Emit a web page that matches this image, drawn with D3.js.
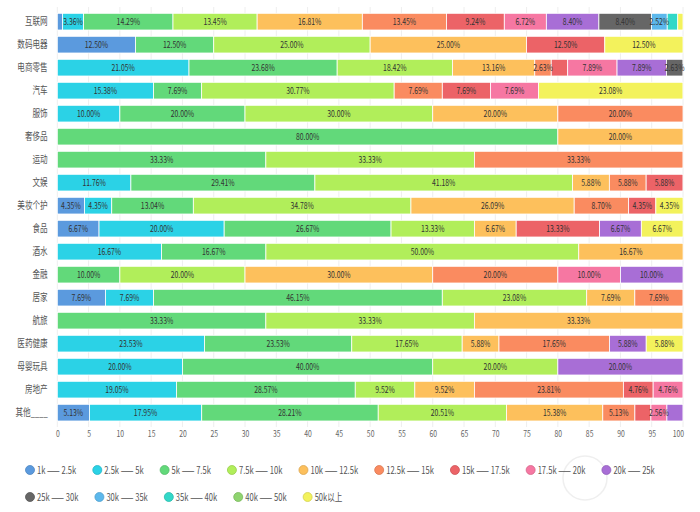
<!DOCTYPE html>
<html>
<head>
<meta charset="utf-8">
<script src="https://cdn.jsdelivr.net/npm/d3@7"></script>
<style>
  body { margin: 0; background: #fff; }
  text { font-family: "Noto Sans CJK SC", "Noto Sans", sans-serif; }
</style>
</head>
<body>
<svg id="chart" width="700" height="512"></svg>
<script>
// rows, top to bottom
const categories = ["互联网", "数码电器", "电商零售", "汽车", "服饰", "奢侈品", "运动", "文娱", "美妆个护",
    "食品", "酒水", "金融", "居家", "航旅", "医药健康", "母婴玩具", "房地产", "其他____"];

const seriesNames = ["1k —— 2.5k", "2.5k —— 5k", "5k —— 7.5k", "7.5k —— 10k", "10k —— 12.5k", "12.5k —— 15k",
    "15k —— 17.5k", "17.5k —— 20k", "20k —— 25k", "25k —— 30k", "30k —— 35k", "35k —— 40k", "40k —— 50k", "50k以上"];

const seriesColors = ["#5b9ade", "#2bd2e6", "#62d97a", "#b1ee5a", "#fdc05c", "#fa8b60", "#ec6367",
    "#f677a2", "#a86ed6", "#666666", "#5cb8ec", "#32d8c8", "#8fd46f", "#f3f25c"];

// percent share of each salary band, one array per band (same order as categories)
const v1k   = [0.84, 12.50, 0, 0, 0, 0, 0, 0, 4.35, 6.67, 0, 0, 7.69, 0, 0, 0, 0, 5.13];
const v2_5k = [3.36, 0, 21.05, 15.38, 10.00, 0, 0, 11.76, 4.35, 20.00, 16.67, 0, 7.69, 0, 23.53, 20.00, 19.05, 17.95];
const v5k   = [14.29, 12.50, 23.68, 7.69, 20.00, 80.00, 33.33, 29.41, 13.04, 26.67, 16.67, 10.00, 46.15, 33.33, 23.53, 40.00, 28.57, 28.21];
const v7_5k = [13.45, 25.00, 18.42, 30.77, 30.00, 0, 33.33, 41.18, 34.78, 13.33, 50.00, 20.00, 23.08, 33.33, 17.65, 20.00, 9.52, 20.51];
const v10k  = [16.81, 25.00, 13.16, 0, 20.00, 20.00, 0, 5.88, 26.09, 6.67, 16.67, 30.00, 7.69, 33.33, 5.88, 0, 9.52, 15.38];
const v12_5k= [13.45, 0, 2.63, 7.69, 20.00, 0, 33.33, 5.88, 8.70, 0, 0, 20.00, 7.69, 0, 17.65, 0, 23.81, 5.13];
const v15k  = [9.24, 12.50, 2.63, 7.69, 0, 0, 0, 5.88, 4.35, 13.33, 0, 0, 0, 0, 0, 0, 4.76, 2.56];
const v17_5k= [6.72, 0, 7.89, 7.69, 0, 0, 0, 0, 0, 0, 0, 10.00, 0, 0, 0, 0, 4.76, 2.56];
const v20k  = [8.40, 0, 7.89, 0, 0, 0, 0, 0, 0, 6.67, 0, 10.00, 0, 0, 5.88, 20.00, 0, 2.56];
const v25k  = [8.40, 0, 2.63, 0, 0, 0, 0, 0, 0, 0, 0, 0, 0, 0, 0, 0, 0, 0];
const v30k  = [2.52, 0, 0, 0, 0, 0, 0, 0, 0, 0, 0, 0, 0, 0, 0, 0, 0, 0];
const v35k  = [1.68, 0, 0, 0, 0, 0, 0, 0, 0, 0, 0, 0, 0, 0, 0, 0, 0, 0];
const v40k  = [0, 0, 0, 0, 0, 0, 0, 0, 0, 0, 0, 0, 0, 0, 0, 0, 0, 0];
const v50k  = [0.84, 12.50, 0, 23.08, 0, 0, 0, 0, 4.35, 6.67, 0, 0, 0, 0, 5.88, 0, 0, 0];

const seriesValues = [v1k, v2_5k, v5k, v7_5k, v10k, v12_5k, v15k, v17_5k, v20k, v25k, v30k, v35k, v40k, v50k];

const xTicks = d3.range(0, 101, 5);

// the reference is squeezed horizontally, so all text gets this x scale
const SX = 0.76;

const svg = d3.select("#chart");

const x = d3.scaleLinear().domain([0, 100]).range([57.3, 683]);
const y = d3.scaleBand().domain(categories).range([7, 427.3]).padding(0.274);

const rows = categories.map((c, i) => {
    let r = {cat: c};
    seriesNames.forEach((s, j) => r[s] = seriesValues[j][i]);
    return r;
});
const layers = d3.stack().keys(seriesNames)(rows);

// grid
svg.append("g").selectAll("line").data(xTicks).enter().append("line")
    .attr("x1", d => x(d)).attr("x2", d => x(d))
    .attr("y1", 7).attr("y2", 427)
    .attr("stroke", "#eeeeee").attr("stroke-width", 1);

// faint watermark ring behind the legend
svg.append("circle").attr("cx", 585).attr("cy", 478).attr("r", 22)
    .attr("fill", "none").attr("stroke", "#efefef").attr("stroke-width", 1.5);

// bars
let segs = [];
let barG = svg.append("g");
layers.forEach((layer, si) => {
    layer.forEach((d, ri) => {
        let v = seriesValues[si][ri];
        if (v > 0) {
            segs.push({si: si, cat: d.data.cat, x0: x(d[0]), x1: x(d[1]), v: v});
        }
    });
});
barG.selectAll("rect").data(segs).enter().append("rect")
    .attr("x", d => d.x0)
    .attr("y", d => y(d.cat))
    .attr("width", d => d.x1 - d.x0)
    .attr("height", y.bandwidth())
    .attr("fill", d => seriesColors[d.si])
    .attr("stroke", "#fff")
    .attr("stroke-width", 0.8);

// labels, hiding the ones that would overlap (bigger segments first)
let measure = svg.append("text").attr("font-size", 9);
segs.forEach(d => {
    d.text = d.v.toFixed(2) + "%";
    measure.text(d.text);
    d.tw = measure.node().getComputedTextLength() * SX;
    d.cx = (d.x0 + d.x1) / 2;
});
measure.remove();

let order = segs.map((d, i) => i).sort((a, b) => {
    let wa = segs[a].x1 - segs[a].x0, wb = segs[b].x1 - segs[b].x0;
    if (Math.abs(wa - wb) > 0.01) return wb - wa;
    return a - b;
});
let kept = [];
let margin = 3;
order.forEach(i => {
    let d = segs[i];
    let clash = kept.some(k => k.cat === d.cat &&
        Math.abs(k.cx - d.cx) < (k.tw + d.tw) / 2 + 2 * margin);
    if (!clash) kept.push(d);
});

svg.append("g").selectAll("text").data(kept).enter().append("text")
    .attr("transform", d => "translate(" + d.cx + "," + (y(d.cat) + y.bandwidth() / 2) + ") scale(" + SX + ",1)")
    .attr("text-anchor", "middle")
    .attr("dy", "0.35em")
    .attr("font-size", 9)
    .attr("fill", "#333")
    .text(d => d.text);

// x axis
let xAxis = svg.append("g")
    .attr("transform", "translate(0,428)")
    .call(d3.axisBottom(x).tickValues(xTicks).tickSize(0).tickPadding(3));
xAxis.select(".domain").remove();
xAxis.selectAll("text")
    .attr("font-size", 9)
    .attr("fill", "#666")
    .attr("font-family", null)
    .attr("transform", "scale(" + SX + ",1)")
    .filter(d => d === 100)
    .attr("text-anchor", "end")
    .attr("x", 0.5 / SX);

// y axis
let pad = 9.6;
let yAxis = svg.append("g")
    .attr("transform", "translate(" + x(0) + ",0)")
    .call(d3.axisLeft(y).tickSize(0).tickPadding(pad));
yAxis.select(".domain").remove();
yAxis.selectAll("text")
    .attr("font-size", 10)
    .attr("fill", "#555")
    .attr("font-family", null)
    .attr("x", -pad / SX)
    .attr("transform", "scale(" + SX + ",1)");

// legend
let legend = svg.append("g");
let lx = 30, ly = 470;
let lm = legend.append("text").attr("font-size", 10);
seriesNames.forEach((name, i) => {
    lm.text(name);
    let tw = lm.node().getComputedTextLength() * SX;
    if (lx + 7 + tw > 690) {
        lx = 30;
        ly += 27;
    }
    let item = legend.append("g").attr("transform", "translate(" + lx + "," + ly + ")");
    item.append("circle").attr("r", 4.5).attr("fill", seriesColors[i])
        .attr("stroke", d3.color(seriesColors[i]).darker(0.4)).attr("stroke-width", 0.8);
    item.append("text")
        .attr("transform", "translate(7,0) scale(" + SX + ",1)")
        .attr("dy", "0.35em")
        .attr("font-size", 10)
        .attr("fill", "#555")
        .text(name);
    lx += 7 + tw + 21;
});
lm.remove();
</script>
</body>
</html>
